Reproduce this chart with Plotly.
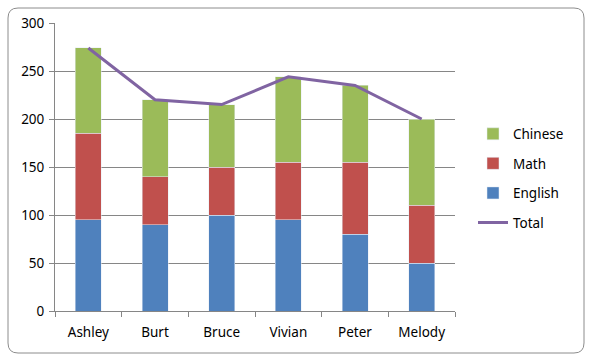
import plotly.graph_objects as go

students = ["Ashley", "Burt", "Bruce", "Vivian", "Peter", "Melody"]
english = [95, 90, 100, 95, 80, 50]
math = [90, 50, 50, 60, 75, 60]
chinese = [89, 80, 65, 89, 80, 90]
total = [e + m + c for e, m, c in zip(english, math, chinese)]

font = "Noto Sans"
fig = go.Figure()
fig.add_trace(go.Bar(x=students, y=english, name="English", marker_color="#4F81BD",
                     legendrank=3, legendgroup="e"))
fig.add_trace(go.Bar(x=students, y=math, name="Math", marker_color="#C0504D",
                     legendrank=2, legendgroup="m"))
fig.add_trace(go.Bar(x=students, y=chinese, name="Chinese", marker_color="#9BBB59",
                     legendrank=1, legendgroup="c"))
fig.add_trace(go.Scatter(x=students, y=total, name="Total", mode="lines",
                         line=dict(color="#8064A2", width=3), legendrank=4, legendgroup="t"))


def px(xp):
    return (xp - 55) / 400.0


def py(yp):
    return (311 - yp) / 288.0


x0, x1, y0, y1, r = 8, 584, 8, 353, 10
path = (f"M {px(x0 + r)},{py(y0)} L {px(x1 - r)},{py(y0)} "
        f"Q {px(x1)},{py(y0)} {px(x1)},{py(y0 + r)} L {px(x1)},{py(y1 - r)} "
        f"Q {px(x1)},{py(y1)} {px(x1 - r)},{py(y1)} L {px(x0 + r)},{py(y1)} "
        f"Q {px(x0)},{py(y1)} {px(x0)},{py(y1 - r)} L {px(x0)},{py(y0 + r)} "
        f"Q {px(x0)},{py(y0)} {px(x0 + r)},{py(y0)} Z")

fig.update_layout(
    width=592, height=362,
    barmode="stack", bargap=0.61,
    margin=dict(l=55, r=137, t=23, b=51),
    paper_bgcolor="white", plot_bgcolor="white",
    font=dict(family=font, size=13, color="#000000"),
    legend=dict(x=1.045, y=0.46, xanchor="left", yanchor="middle",
                traceorder="grouped", tracegroupgap=9,
                font=dict(size=13.5), bgcolor="rgba(0,0,0,0)"),
    shapes=[dict(type="path", xref="paper", yref="paper", path=path,
                 line=dict(color="#8C8C8C", width=1), layer="below")],
)

fig.update_yaxes(range=[0, 300], dtick=50, showgrid=True, gridcolor="#868686", gridwidth=1,
                 showline=True, linecolor="#868686", ticks="outside", ticklen=5,
                 tickcolor="#868686", zeroline=False, ticklabelstandoff=2,
                 tickfont=dict(size=13.5))
fig.update_xaxes(showline=True, linecolor="#868686", ticks="outside", ticklen=5,
                 tickcolor="#868686", tickson="boundaries", showgrid=False,
                 ticklabelstandoff=9, tickfont=dict(size=13.5))

fig.write_html("out.html")
